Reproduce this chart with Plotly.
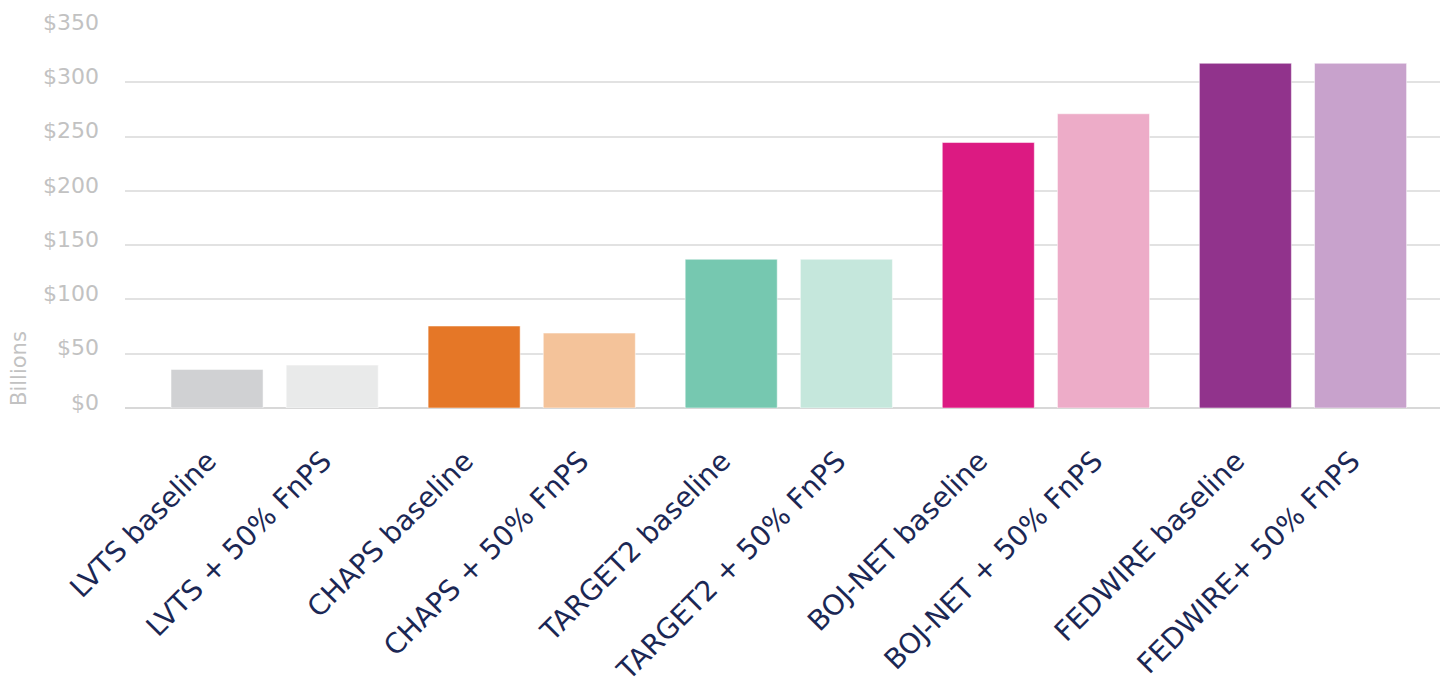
import plotly.graph_objects as go

labels = ["LVTS baseline", "LVTS + 50% FnPS", "CHAPS baseline", "CHAPS + 50% FnPS",
          "TARGET2 baseline", "TARGET2 + 50% FnPS", "BOJ-NET baseline", "BOJ-NET + 50% FnPS",
          "FEDWIRE baseline", "FEDWIRE+ 50% FnPS"]
values = [35.5, 39.5, 75.5, 69, 137, 137, 244.5, 271, 317.5, 317.5]
colors = ["#d0d1d3", "#e9eaea", "#e57727", "#f4c39a", "#76c8b0", "#c5e7dc",
          "#dc1a82", "#edacc8", "#91338c", "#c8a2cc"]
y_ticks = [0, 50, 100, 150, 200, 250, 300, 350]
y_ticktext = ["$" + str(v) for v in y_ticks]

pair_offset = 0.224
bar_width = 0.358
xpos = [(i // 2) + (i % 2 - 0.5) * 2 * pair_offset for i in range(len(labels))]

fig = go.Figure(go.Bar(
    x=xpos, y=values, width=bar_width,
    marker=dict(color=colors, line=dict(color="rgba(255,255,255,0.5)", width=1)),
    hoverinfo="skip",
))

fig.update_layout(
    width=1448, height=688,
    margin=dict(l=125, r=8, t=28, b=280),
    paper_bgcolor="white", plot_bgcolor="white",
    showlegend=False,
    font=dict(family="DejaVu Sans, Verdana, sans-serif"),
    xaxis=dict(
        range=[-0.582, 4.533], automargin=False,
        tickmode="array", tickvals=xpos, ticktext=labels,
        tickangle=-45,
        tickfont=dict(size=28, color="#1b2754"),
        showgrid=False, zeroline=False, showline=False, ticks="",
        ticklabelstandoff=30, ticklabelshift=-9,
    ),
    yaxis=dict(
        range=[0, 350], automargin=False,
        tickmode="array", tickvals=y_ticks, ticktext=y_ticktext,
        tickfont=dict(size=22, color="#c2c2c2"),
        showgrid=True, gridcolor="#e2e2e2", gridwidth=2,
        zeroline=True, zerolinecolor="#d8d8d8", zerolinewidth=2,
        showline=False, ticks="", ticklabelstandoff=25, ticklabelshift=-6,
    ),
    annotations=[dict(
        text="Billions", textangle=-90, xref="paper", yref="paper",
        x=-0.081, y=0, xanchor="center", yanchor="bottom",
        showarrow=False, font=dict(size=21, color="#c2c2c2",
                                   family="DejaVu Sans, Verdana, sans-serif"),
    )],
)

fig.write_html("out.html")
